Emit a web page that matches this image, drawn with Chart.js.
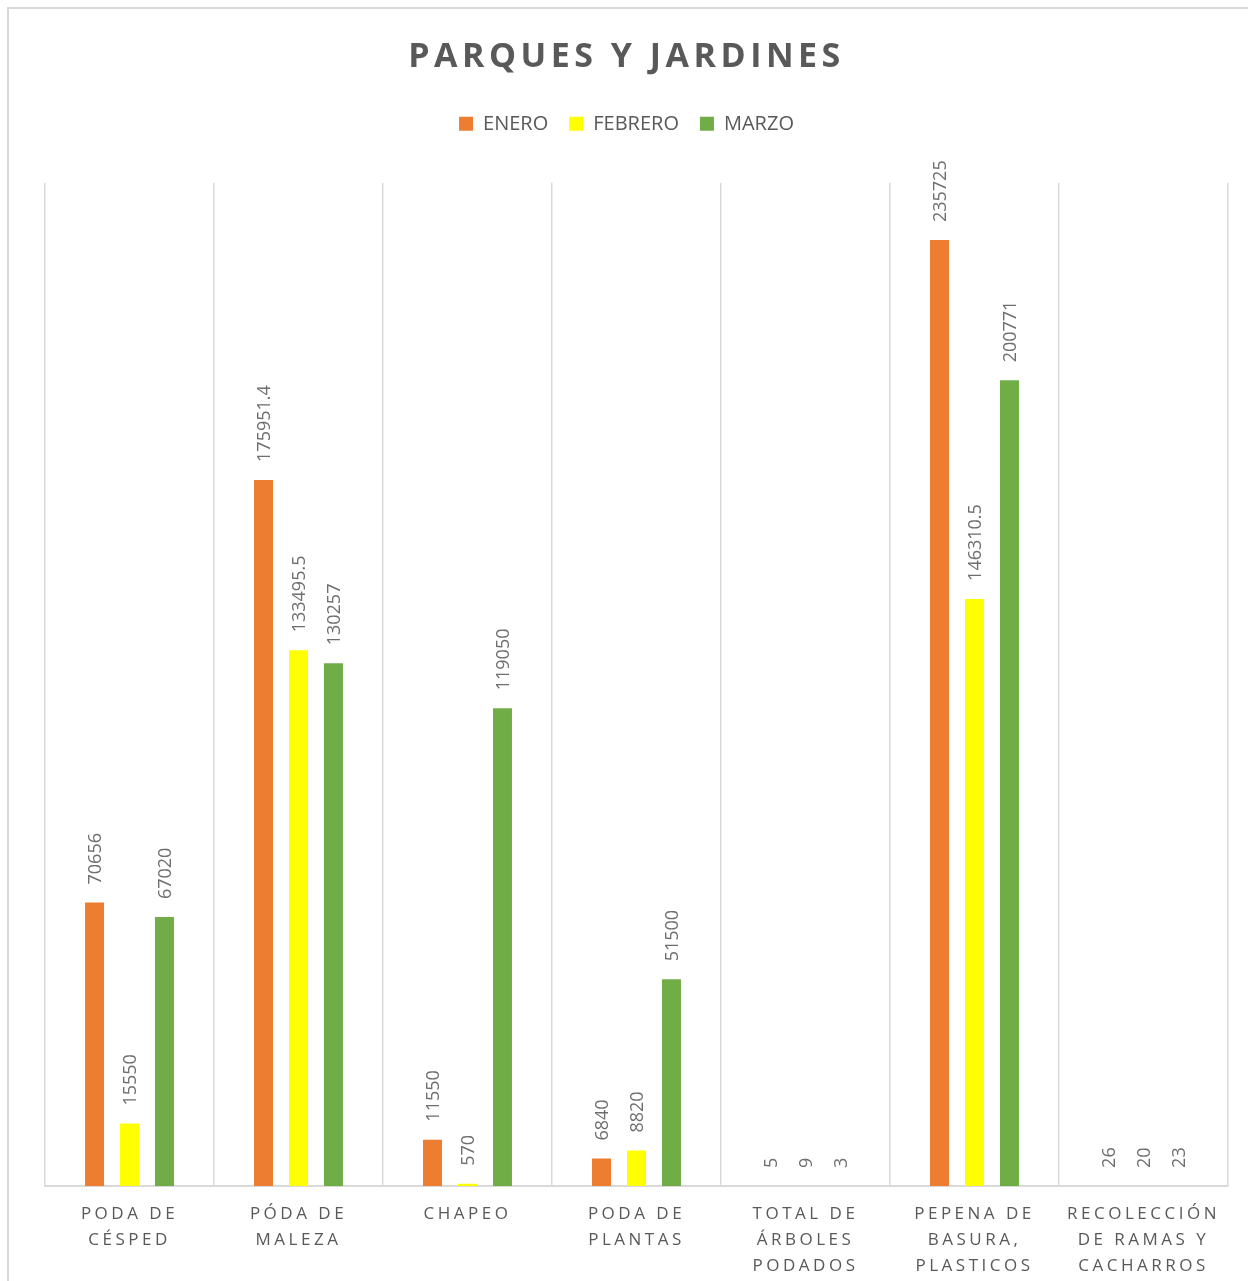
<!DOCTYPE html>
<html>
<head>
<meta charset="utf-8">
<script src="https://cdn.jsdelivr.net/npm/chart.js@4/dist/chart.umd.min.js"></script>
<style>
  html, body { margin: 0; padding: 0; background: #fff; overflow: hidden; }
  #frame { position: absolute; left: 7px; top: 7px; width: 1260px; height: 1300px; border: 2px solid #d9d9d9; box-sizing: border-box; }
  #chart { position: absolute; left: 0; top: 0; }
</style>
</head>
<body>
<div id="frame"></div>
<canvas id="chart" width="1248" height="1281"></canvas>
<script>
const categories = [
  ['PODA DE', 'CÉSPED'],
  ['PÓDA DE', 'MALEZA'],
  'CHAPEO',
  ['PODA DE', 'PLANTAS'],
  ['TOTAL DE', 'ÁRBOLES', 'PODADOS'],
  ['PEPENA DE', 'BASURA,', 'PLASTICOS'],
  ['RECOLECCIÓN', 'DE RAMAS Y', 'CACHARROS'],
];
const enero = [70656, 175951.4, 11550, 6840, 5, 235725, 26];
const febrero = [15550, 133495.5, 570, 8820, 9, 146310.5, 20];
const marzo = [67020, 130257, 119050, 51500, 3, 200771, 23];
const seriesNames = ['ENERO', 'FEBRERO', 'MARZO'];
const seriesColors = ['#ED7D31', '#FFFF00', '#70AD47'];

const textGray = '#595959';
const gridGray = '#d9d9d9';

// spaced-out axis labels, like the original
const CategoryScale = Chart.registry.getScale('category');
const origDrawLabels = CategoryScale.prototype.drawLabels;
CategoryScale.prototype.drawLabels = function (area) {
  this.ctx.save();
  this.ctx.letterSpacing = '3.5px';
  origDrawLabels.call(this, area);
  this.ctx.restore();
};

// letter-spaced title + extra room under the legend
const boxTweaks = {
  id: 'boxTweaks',
  afterInit(chart) {
    const tb = chart.titleBlock;
    if (tb) {
      const draw = tb.draw.bind(tb);
      tb.draw = function () {
        chart.ctx.save();
        chart.ctx.letterSpacing = '4.5px';
        draw();
        chart.ctx.restore();
      };
    }
    const lg = chart.legend;
    if (lg) {
      const fit = lg.fit.bind(lg);
      lg.fit = function () {
        fit();
        this.height += 39;
      };
    }
  },
};

const barValues = {
  id: 'barValues',
  afterDatasetsDraw(chart) {
    const ctx = chart.ctx;
    ctx.save();
    ctx.fillStyle = '#6e6e6e';
    ctx.font = '18px "Open Sans"';
    ctx.textAlign = 'left';
    ctx.textBaseline = 'middle';
    chart.data.datasets.forEach((ds, i) => {
      chart.getDatasetMeta(i).data.forEach((bar, j) => {
        ctx.save();
        ctx.translate(bar.x + 1, bar.y - 18);
        ctx.rotate(-Math.PI / 2);
        ctx.fillText(String(ds.data[j]), 0, 0);
        ctx.restore();
      });
    });
    ctx.restore();
  },
};

const seriesData = [enero, febrero, marzo];

new Chart(document.getElementById('chart'), {
  type: 'bar',
  data: {
    labels: categories,
    datasets: seriesNames.map((name, i) => ({
      label: name,
      data: seriesData[i],
      backgroundColor: seriesColors[i],
      borderWidth: 0,
      categoryPercentage: 0.621,
      barPercentage: 0.543,
    })),
  },
  options: {
    responsive: false,
    animation: false,
    devicePixelRatio: 1,
    layout: { padding: { top: 25, left: 25, right: 20, bottom: 0 } },
    plugins: {
      title: {
        display: true,
        text: 'PARQUES Y JARDINES',
        color: textGray,
        font: { family: '"Open Sans"', size: 34, weight: 'bold' },
        padding: { top: 12, bottom: 15 },
      },
      legend: {
        display: true,
        labels: {
          color: textGray,
          font: { family: '"Open Sans"', size: 20 },
          boxWidth: 14,
          boxHeight: 14,
          padding: 21,
        },
      },
      tooltip: { enabled: false },
    },
    scales: {
      x: {
        grid: {
          display: true,
          offset: true,
          color: gridGray,
          lineWidth: 1.5,
          drawTicks: false,
        },
        border: { display: true, color: gridGray, width: 2 },
        ticks: {
          color: textGray,
          font: { family: '"Open Sans"', size: 17, lineHeight: 1.53 },
          padding: 15,
          maxRotation: 0,
          autoSkip: false,
        },
        afterFit(scale) { scale.height = 95; },
      },
      y: {
        display: true,
        min: 0,
        max: 250000,
        grid: { display: false },
        border: { display: false },
        ticks: { display: false },
        afterFit(scale) { scale.width = 20; },
      },
    },
  },
  plugins: [boxTweaks, barValues],
});
</script>
</body>
</html>
